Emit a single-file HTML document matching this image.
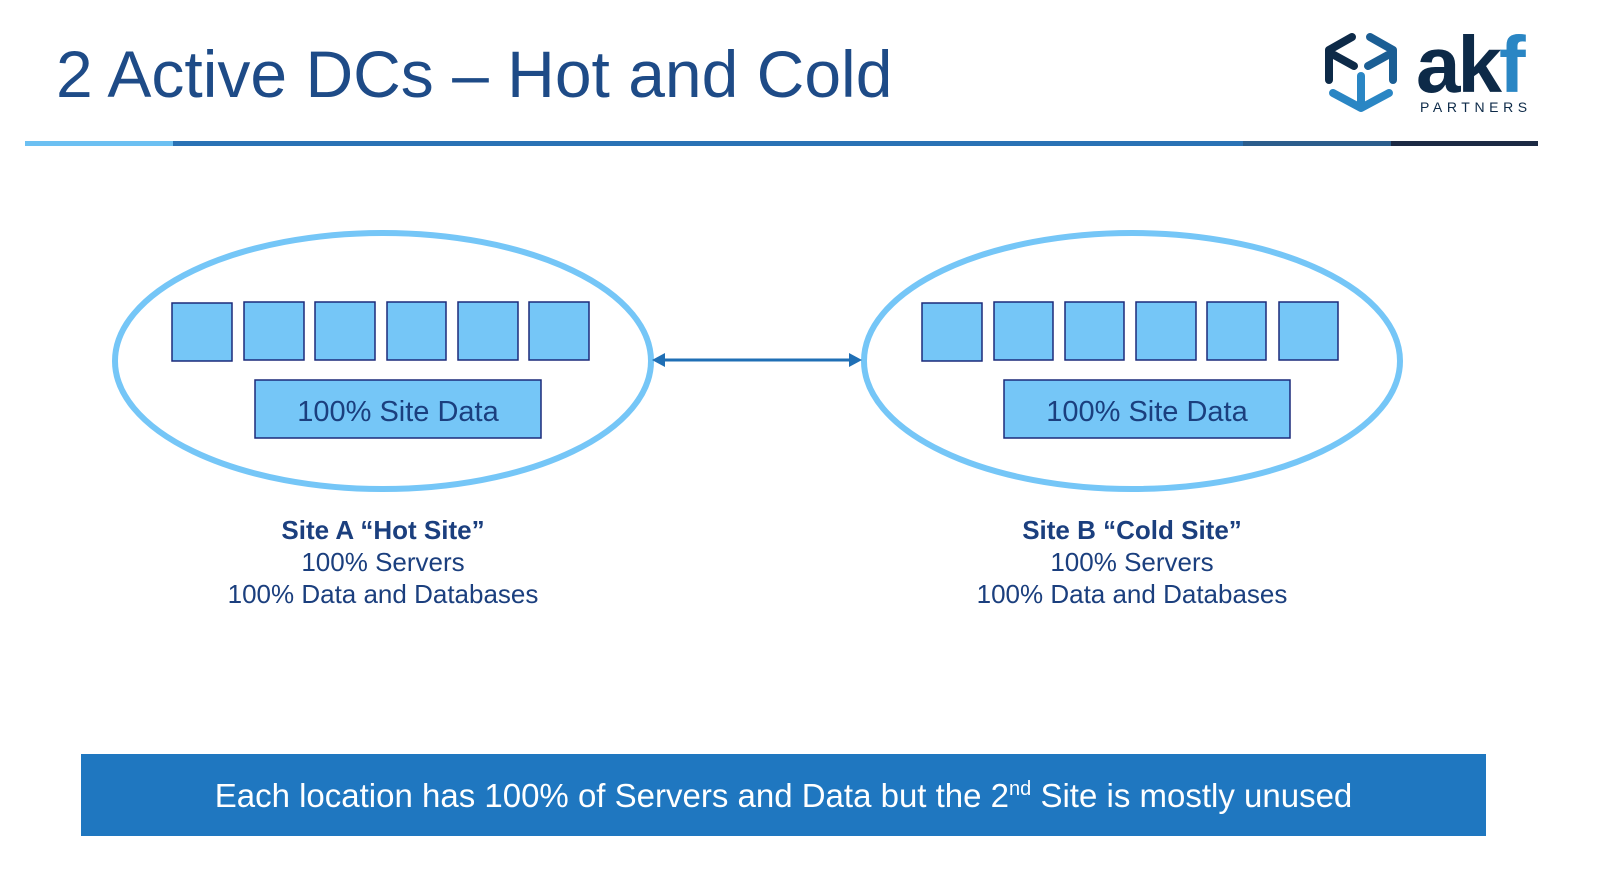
<!DOCTYPE html>
<html><head><meta charset="utf-8"><style>
body{margin:0;width:1600px;height:893px;background:#fff;position:relative;overflow:hidden;font-family:"Liberation Sans",Arial,sans-serif}
.a{position:absolute}
.lbl{position:absolute;width:600px;text-align:center;color:#1b3f7e;font-size:26px;line-height:32px}
</style></head><body>
<div class="a" style="left:56px;top:34px;font-size:66px;color:#1e4b87;line-height:80px;letter-spacing:0px">2 Active DCs – Hot and Cold</div>
<div class="a" style="left:25px;top:141px;width:148px;height:5px;background:#6cc0f2"></div>
<div class="a" style="left:173px;top:141px;width:1070px;height:5px;background:#2a72b5"></div>
<div class="a" style="left:1243px;top:141px;width:148px;height:5px;background:#2c5d8c"></div>
<div class="a" style="left:1391px;top:141px;width:147px;height:5px;background:#1c2a44"></div>
<svg class="a" style="left:0;top:0" width="1600" height="893">
<g fill="none" stroke-width="8" stroke-linecap="round" stroke-linejoin="round">
<path d="M1352 37 L1329 50 L1329 80" stroke="#0d2a48"/>
<path d="M1334 55 L1354 66" stroke="#0d2a48"/>
<path d="M1370 37 L1393 50 L1393 80" stroke="#1b5e94"/>
<path d="M1388 55 L1368 66" stroke="#1b5e94"/>
<path d="M1361 76 L1361 104" stroke="#2a86c4"/>
<path d="M1333 93 L1361 108 L1389 93" stroke="#2a86c4"/>
</g>
<text x="1416" y="92" font-family="Liberation Sans,sans-serif" font-size="80" font-weight="bold" letter-spacing="-3"><tspan fill="#0d2a48">ak</tspan><tspan fill="#2a86c4">f</tspan></text>
<text x="1420" y="112" font-family="Liberation Sans,sans-serif" font-size="14" fill="#0d2a48" letter-spacing="4.6">PARTNERS</text>
<ellipse cx="383" cy="361" rx="268" ry="128" fill="none" stroke="#75c6f7" stroke-width="6"/>
<ellipse cx="1132" cy="361" rx="268" ry="128" fill="none" stroke="#75c6f7" stroke-width="6"/>
<g fill="#75c6f7" stroke="#1c2a7a" stroke-width="1.5">
<rect x="172" y="303" width="60" height="58"/><rect x="244" y="302" width="60" height="58"/><rect x="315" y="302" width="60" height="58"/><rect x="387" y="302" width="59" height="58"/><rect x="458" y="302" width="60" height="58"/><rect x="529" y="302" width="60" height="58"/>
<rect x="255" y="380" width="286" height="58"/>
<rect x="922" y="303" width="60" height="58"/><rect x="994" y="302" width="59" height="58"/><rect x="1065" y="302" width="59" height="58"/><rect x="1136" y="302" width="60" height="58"/><rect x="1207" y="302" width="59" height="58"/><rect x="1279" y="302" width="59" height="58"/>
<rect x="1004" y="380" width="286" height="58"/>
</g>
<text x="398" y="421" text-anchor="middle" font-family="Liberation Sans,sans-serif" font-size="29" fill="#1b3f7e">100% Site Data</text>
<text x="1147" y="421" text-anchor="middle" font-family="Liberation Sans,sans-serif" font-size="29" fill="#1b3f7e">100% Site Data</text>
<line x1="662" y1="360" x2="852" y2="360" stroke="#1f6fb5" stroke-width="3"/>
<path d="M652 360 L665 353 L665 367Z M862 360 L849 353 L849 367Z" fill="#1f6fb5"/>
</svg>
<div class="lbl" style="left:83px;top:514px"><b>Site A “Hot Site”</b><br>100% Servers<br>100% Data and Databases</div>
<div class="lbl" style="left:832px;top:514px"><b>Site B “Cold Site”</b><br>100% Servers<br>100% Data and Databases</div>
<div class="a" style="left:81px;top:754px;width:1405px;height:82px;background:#1f77c0;color:#fff;font-size:33px;line-height:84px;text-align:center">Each location has 100% of Servers and Data but the 2<sup style="font-size:20px;line-height:0">nd</sup> Site is mostly unused</div>
</body></html>
